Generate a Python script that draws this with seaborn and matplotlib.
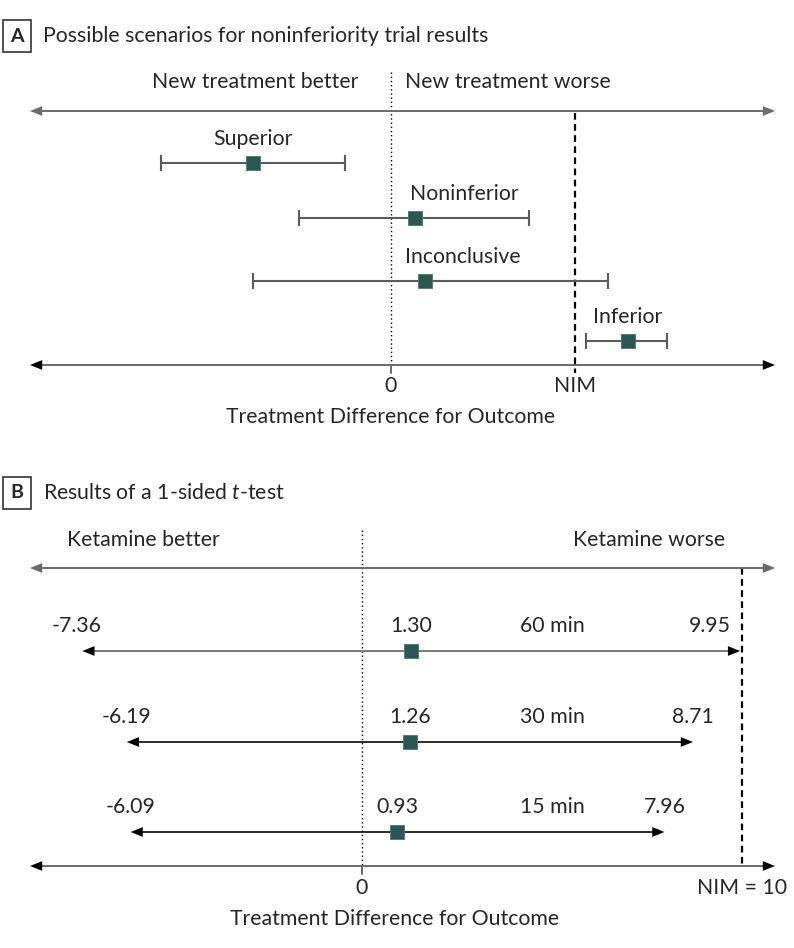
import matplotlib
matplotlib.use('Agg')
import numpy as np
import pandas as pd
import matplotlib.pyplot as plt
import seaborn as sns
from matplotlib.patches import Rectangle
import matplotlib.transforms as mtransforms

# Panel A: conceptual scenarios (arbitrary units, NIM = 10)
scenarios = ['Superior', 'Noninferior', 'Inconclusive', 'Inferior']
scen_est = [-7.45, 1.33, 1.87, 12.87]
scen_lower = [-12.44, -4.96, -7.45, 10.60]
scen_upper = [-2.47, 7.51, 11.79, 14.98]
nim_a = 10

# Panel B: ketamine results of the 1-sided t-test
times = ['60 min', '30 min', '15 min']
ket_est = [1.30, 1.26, 0.93]
ket_lower = [-7.36, -6.19, -6.09]
ket_upper = [9.95, 8.71, 7.96]
nim_b = 10

# layout (figure pixels)
W, H = 794, 948
split = 460
row_y_a = [163, 218, 281, 341]
row_y_b = [651, 742, 832]

sq_color = '#2b5753'
gray = '#6a6a6a'
fs = 15.3

sns.set_theme(style='white')
plt.rcParams['font.family'] = ['Lato', 'DejaVu Sans']
plt.rcParams['mathtext.fontset'] = 'custom'
plt.rcParams['mathtext.rm'] = 'Lato'
plt.rcParams['mathtext.it'] = 'Lato:italic'

fig = plt.figure(figsize=(W / 100, H / 100), dpi=100)
fig.patch.set_facecolor('white')
ax_a = fig.add_axes([0, 1 - split / H, 1, split / H])
ax_b = fig.add_axes([0, 0, 1, (H - split) / H])

# pixel -> data x for each panel
zero_a, scale_a = 390.5, 18.45
zero_b, scale_b = 362.0, 38.0
px_a = lambda p: (p - zero_a) / scale_a
px_b = lambda p: (p - zero_b) / scale_b


def double_arrow(ax, px, x0, x1, y, line_color, head_color, lw):
    d = px(6) - px(0)
    ax.plot([x0 + d, x1 - d], [y, y], color=line_color, lw=lw,
            solid_capstyle='butt', zorder=2)
    eps = px(1) - px(0)
    for tip, back in ((x0, x0 + eps), (x1, x1 - eps)):
        ax.annotate('', xy=(tip, y), xytext=(back, y),
                    arrowprops=dict(arrowstyle='-|>,head_length=0.65,head_width=0.26',
                                    color=head_color, lw=0, shrinkA=0, shrinkB=0,
                                    mutation_scale=13.5), zorder=3)


def panel_title(ax, px, letter, text, yc, top):
    ax.add_patch(Rectangle((px(3), top), px(31) - px(3), 2 * (yc - top),
                           facecolor='white', edgecolor='#333333', lw=1.2, zorder=3))
    ax.text(px(17), yc, letter, ha='center', va='center', fontsize=14,
            fontweight='bold', zorder=4)
    ax.text(px(43), yc, text, ha='left', va='center', fontsize=fs)


# ---------------- Panel A ----------------
ax = ax_a
panel_title(ax, px_a, 'A', 'Possible scenarios for noninferiority trial results', 36, 20)
ax.text(px_a(358), 82, 'New treatment better', ha='right', va='center', fontsize=fs)
ax.text(px_a(405), 82, 'New treatment worse', ha='left', va='center', fontsize=fs)

double_arrow(ax, px_a, px_a(30), px_a(775), 111, gray, gray, 1.4)
double_arrow(ax, px_a, px_a(30), px_a(775), 365, gray, 'black', 1.4)

ax.plot([0, 0], [72, 365], ls=(0, (1, 2)), color='black', lw=1, zorder=1)
ax.plot([0, 0], [365, 373], color=gray, lw=1.4, zorder=1)
ax.plot([nim_a, nim_a], [113, 373], ls=(0, (3, 2)), color='black', lw=1.6, zorder=1)

est = np.array(scen_est)
ax.errorbar(est, row_y_a, xerr=[est - np.array(scen_lower), np.array(scen_upper) - est],
            fmt='none', ecolor='#5c5c5c', elinewidth=1.5, capsize=5.8, capthick=1.5,
            zorder=2)
df_a = pd.DataFrame({'scenario': scenarios, 'estimate': scen_est, 'y': row_y_a})
sns.scatterplot(data=df_a, x='estimate', y='y', marker='s', s=98, color=sq_color,
                edgecolor='#4a7774', linewidth=0.6, ax=ax, zorder=4, legend=False)

label_shift = [(0, 'center'), (-5, 'left'), (-20, 'left'), (0, 'center')]
for name, x, y, (dx, ha) in zip(scenarios, scen_est, row_y_a, label_shift):
    ax.annotate(name, xy=(x, y - 24), xytext=(dx, 0), textcoords='offset pixels',
                ha=ha, va='center', fontsize=fs)

ax.text(0, 386, '0', ha='center', va='center', fontsize=fs)
ax.text(nim_a, 386, 'NIM', ha='center', va='center', fontsize=fs)
blend = mtransforms.blended_transform_factory(ax.transAxes, ax.transData)
ax.text(391 / W, 417, 'Treatment Difference for Outcome', ha='center', va='center',
        fontsize=fs, transform=blend)

ax.set_xlim(px_a(0), px_a(W))
ax.set_ylim(split, 0)
ax.axis('off')

# ---------------- Panel B ----------------
ax = ax_b
panel_title(ax, px_b, 'B', 'Results of a 1-sided $\\mathit{t}$-test', 493, 477)
ax.text(px_b(67), 540, 'Ketamine better', ha='left', va='center', fontsize=fs)
ax.text(px_b(725), 540, 'Ketamine worse', ha='right', va='center', fontsize=fs)

double_arrow(ax, px_b, px_b(30), px_b(775), 568, gray, gray, 1.4)
double_arrow(ax, px_b, px_b(30), px_b(775), 866, gray, 'black', 1.4)

ax.plot([0, 0], [530, 866], ls=(0, (1, 2)), color='black', lw=1, zorder=1)
ax.plot([0, 0], [866, 874], color=gray, lw=1.4, zorder=1)
ax.plot([nim_b, nim_b], [568, 866], ls=(0, (3, 2)), color='black', lw=1.6, zorder=1)

line_cols = ['#707070', '#1a1a1a', '#1a1a1a']
for lo, hi, y, c in zip(ket_lower, ket_upper, row_y_b, line_cols):
    double_arrow(ax, px_b, lo, hi, y, c, 'black', 1.3)

df_b = pd.DataFrame({'time': times, 'estimate': ket_est, 'y': row_y_b})
sns.scatterplot(data=df_b, x='estimate', y='y', marker='s', s=95, color=sq_color,
                edgecolor='#4a7774', linewidth=0.6, ax=ax, zorder=4, legend=False)

lo_shift = [-6, 0, 0]
hi_shift = [-30, 0, 0]
for t, lo, e, hi, y, dl, dh in zip(times, ket_lower, ket_est, ket_upper, row_y_b,
                                   lo_shift, hi_shift):
    ly = y - 25
    ax.annotate(f'{lo:.2f}', xy=(lo, ly), xytext=(dl, 0), textcoords='offset pixels',
                ha='center', va='center', fontsize=fs)
    ax.text(e, ly, f'{e:.2f}', ha='center', va='center', fontsize=fs)
    ax.text(px_b(552), ly, t, ha='center', va='center', fontsize=fs)
    ax.annotate(f'{hi:.2f}', xy=(hi, ly), xytext=(dh, 0), textcoords='offset pixels',
                ha='center', va='center', fontsize=fs)

ax.text(0, 888, '0', ha='center', va='center', fontsize=fs)
ax.text(nim_b, 888, f'NIM = {nim_b}', ha='center', va='center', fontsize=fs)
blend = mtransforms.blended_transform_factory(ax.transAxes, ax.transData)
ax.text(395 / W, 919, 'Treatment Difference for Outcome', ha='center', va='center',
        fontsize=fs, transform=blend)

ax.set_xlim(px_b(0), px_b(W))
ax.set_ylim(H, split)
ax.axis('off')

fig.savefig('out.png', dpi=100, facecolor='white')
